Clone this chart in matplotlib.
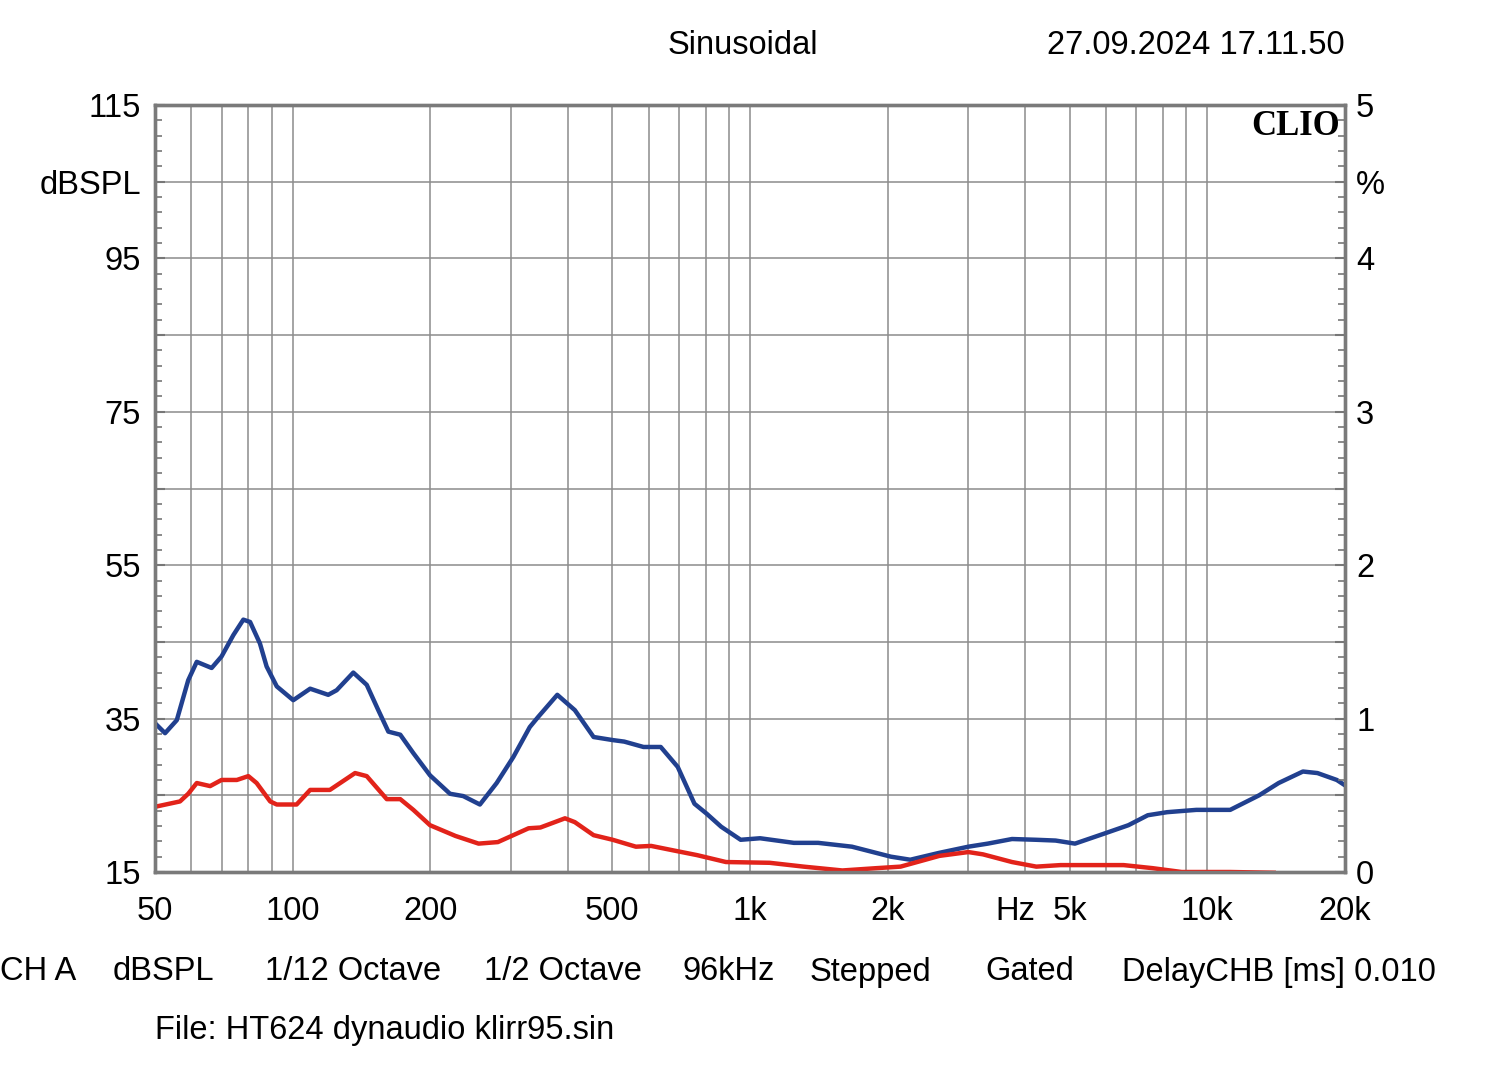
import numpy as np
import matplotlib
matplotlib.use("Agg")
import matplotlib.pyplot as plt
from matplotlib.ticker import FixedLocator, NullFormatter

# -------------------------
# Data
# -------------------------
blue_freq = [50, 52.6, 55.8, 59.1, 61.7, 66.5, 69.9, 74.2, 78.0, 80.7,
             84.8, 87.7, 92.3, 100.3, 109.2, 119.6, 124.8, 135.7, 145.2, 153.9,
             161.9, 171.9, 183.6, 199.7, 220.8, 236, 256.7, 279.3, 303.8, 330,
             344, 379, 414, 455, 501, 531, 585, 638, 695, 756,
             804, 865, 954, 1052, 1247, 1409, 1671, 2032, 2241, 2594,
             3002, 3311, 3740, 4227, 4658, 5136, 5946, 6720, 7410, 8170,
             9460, 10430, 11220, 12980, 14320, 16180, 17410, 19190, 20000]
blue_db = [34.4, 33.1, 34.8, 40.0, 42.4, 41.6, 43.1, 45.9, 47.9, 47.6,
           44.8, 41.8, 39.2, 37.4, 38.9, 38.1, 38.7, 41.0, 39.4, 36.1,
           33.3, 32.9, 30.5, 27.6, 25.2, 24.9, 23.8, 26.6, 30.0, 33.9,
           35.2, 38.1, 36.1, 32.6, 32.2, 32.0, 31.3, 31.3, 28.7, 23.9,
           22.6, 20.9, 19.2, 19.4, 18.8, 18.8, 18.3, 17.0, 16.6, 17.5,
           18.3, 18.7, 19.3, 19.2, 19.1, 18.7, 20.0, 21.1, 22.4, 22.8,
           23.1, 23.1, 23.1, 25.0, 26.6, 28.1, 27.9, 27.0, 26.3]

red_freq = [50, 56.7, 59.1, 61.7, 66, 69.9, 75.5, 80, 83.4, 89.3,
            92.3, 102, 109.2, 120.6, 136.9, 145.2, 160.6, 171.9, 183.6, 199.7,
            227, 255, 281, 328, 348, 394, 414, 455, 501, 563,
            608, 682, 766, 886, 1104, 1310, 1592, 1889, 2134, 2594,
            3002, 3232, 3740, 4227, 4775, 6560, 7590, 8790, 11220, 13970]
red_db = [23.5, 24.2, 25.2, 26.6, 26.2, 27.0, 27.0, 27.5, 26.6, 24.2,
          23.8, 23.8, 25.7, 25.7, 27.9, 27.5, 24.5, 24.5, 23.1, 21.1,
          19.7, 18.7, 18.9, 20.7, 20.8, 22.0, 21.5, 19.8, 19.2, 18.3,
          18.4, 17.8, 17.2, 16.3, 16.2, 15.7, 15.2, 15.5, 15.7, 17.1,
          17.6, 17.3, 16.3, 15.7, 15.9, 15.9, 15.5, 15.0, 15.0, 14.9]

x_ticks = [50, 100, 200, 500, 1000, 2000, 5000, 10000, 20000]
x_labels = ["50", "100", "200", "500", "1k", "2k", "5k", "10k", "20k"]
y_ticks = [15, 25, 35, 45, 55, 65, 75, 85, 95, 105, 115]
y_labels = ["15", "", "35", "", "55", "", "75", "", "95", "dBSPL", "115"]
y2_labels = ["0", "", "1", "", "2", "", "3", "", "4", "%", "5"]

footer = [("CH A", 0), ("dBSPL", 113), ("1/12 Octave", 265), ("1/2 Octave", 484),
          ("96kHz", 682), ("Stepped", 810), ("Gated", 985),
          ("DelayCHB [ms] 0.010", 1122)]

# -------------------------
# Plot
# -------------------------
plt.rcParams['font.family'] = ['Liberation Sans', 'DejaVu Sans']
FS = 23.5
W, H = 1500, 1074
fig = plt.figure(figsize=(W / 100, H / 100), dpi=100)
ax = fig.add_axes([155 / W, 1 - 872 / H, 1190 / W, 767 / H])

ax.set_xscale('log')
ax.set_xlim(50, 20000)
ax.set_ylim(15, 115)

grid_col = '#8c8c8c'
# vertical grid at every log step
vgrid = [m * 10 ** e for e in range(1, 5) for m in range(1, 10)]
vgrid = [v for v in vgrid if 50 < v < 20000]
for v in vgrid:
    ax.axvline(v, color=grid_col, lw=1.1, zorder=1)
for h in y_ticks[1:-1]:
    ax.axhline(h, color=grid_col, lw=1.1, zorder=1)

ax.plot(blue_freq, blue_db, color='#21408f', lw=3.2, zorder=3,
        solid_joinstyle='round')
ax.plot(red_freq, red_db, color='#e2231a', lw=3.2, zorder=4,
        solid_joinstyle='round')

ax.xaxis.set_major_locator(FixedLocator(x_ticks))
ax.xaxis.set_minor_locator(FixedLocator([]))
ax.xaxis.set_minor_formatter(NullFormatter())
ax.set_xticklabels(x_labels)
ax.tick_params(axis='x', which='both', length=0, pad=17, labelsize=FS)

ax.set_yticks(y_ticks)
ax.set_yticklabels(y_labels)
ax.yaxis.set_minor_locator(FixedLocator(np.arange(15, 116, 2)))
ax.tick_params(axis='y', which='major', direction='in', length=7, width=1.5,
               color='#777777', pad=10, labelsize=FS)
ax.tick_params(axis='y', which='minor', direction='in', length=5, width=1.2,
               color='#777777')

ax2 = ax.twinx()
ax2.set_ylim(15, 115)
ax2.set_yticks(y_ticks)
ax2.set_yticklabels(y2_labels)
ax2.yaxis.set_minor_locator(FixedLocator(np.arange(15, 116, 2)))
ax2.tick_params(axis='y', which='major', direction='in', length=7, width=1.5,
                color='#777777', pad=8, labelsize=FS)
ax2.tick_params(axis='y', which='minor', direction='in', length=5, width=1.2,
                color='#777777')

for a in (ax, ax2):
    for s in a.spines.values():
        s.set_color('#7a7a7a')
        s.set_linewidth(2.4)

fig.text(1340 / W, 1 - 110 / H, "CLIO", ha='right', va='top',
         fontsize=25, fontweight='bold', family='Liberation Serif')

fig.text(668 / W, 1 - 45 / H, "Sinusoidal", fontsize=FS, va='center')
fig.text(1345 / W, 1 - 45 / H, "27.09.2024 17.11.50", fontsize=FS,
         va='center', ha='right')
fig.text(1015 / W, 1 - 912 / H, "Hz", fontsize=FS, va='center', ha='center')

for label, xpos in footer:
    fig.text(xpos / W, 1 - 972 / H, label, fontsize=FS, va='center')
fig.text(155 / W, 1 - 1030 / H, "File: HT624 dynaudio klirr95.sin",
         fontsize=FS, va='center')

fig.savefig("out.png", dpi=100)
